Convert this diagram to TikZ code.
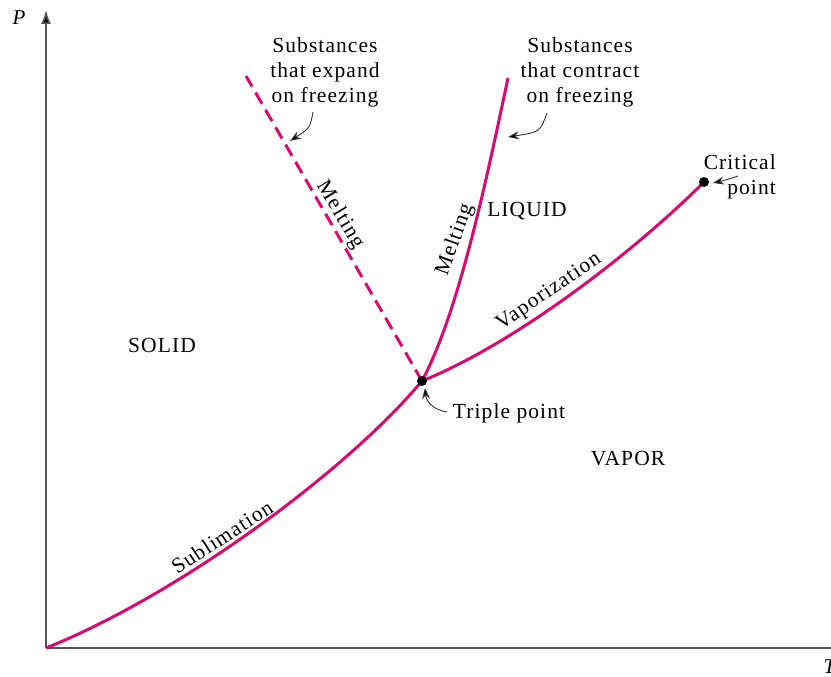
\documentclass[tikz,border=0pt]{standalone}
\usepackage{fontspec}
\setmainfont{Liberation Serif}
\newfontfamily\spacedfont{Liberation Serif}[LetterSpace=5]
\usetikzlibrary{arrows.meta}
\definecolor{phase}{RGB}{214,10,112}
\definecolor{axisgray}{RGB}{85,85,85}
\definecolor{pointer}{RGB}{50,50,50}

\begin{document}
\begin{tikzpicture}[x=1pt,y=-1pt,
  curve/.style={phase, line width=3pt},
  dashedcurve/.style={phase, line width=3pt, dash pattern=on 13pt off 7pt},
  axisline/.style={axisgray, line width=1.6pt},
  lbl/.style={font=\fontsize{21.5}{25}\selectfont\spacedfont, inner sep=0pt, text=black},
  curvelbl/.style={font=\fontsize{21.5}{25}\selectfont\spacedfont, inner sep=0pt, text=black},
  pointerline/.style={pointer, line width=0.9pt, -{Stealth[length=11pt,width=8pt,fill=black]}},
  dot/.style={circle, fill=black, inner sep=0pt, minimum size=10pt}
]
\useasboundingbox (0,0) rectangle (831,677);

% axes
\coordinate (O) at (46,648);
\coordinate (Ptop) at (46,10);
\coordinate (Tend) at (831,648);
\draw[axisline, -{Latex[length=14pt,width=10pt,fill=black]}] (O) -- (Ptop);
\draw[axisline] (O) -- (Tend);
\node[font=\fontsize{21}{25}\selectfont\itshape] (plbl) at (19,18) {P};
\node[font=\fontsize{21}{25}\selectfont\itshape, anchor=west] (tlbl) at (820,667) {T};

% special points and curve ends
\coordinate (TP) at (422,381);
\coordinate (CP) at (704,182);
\coordinate (Eexp) at (246,76);
\coordinate (Econ) at (508,78);

% phase boundaries
\draw[curve] (O) .. controls (176,596) and (345,473) .. (TP);
\draw[curve] (TP) .. controls (515,343.5) and (633,253) .. (CP);
\draw[curve] (TP) .. controls (459.6,310.4) and (487.2,175.8) .. (Econ);
\draw[dashedcurve] (TP) -- (Eexp);

\node[dot] (tpdot) at (TP) {};
\node[dot] (cpdot) at (CP) {};

% region names
\node[lbl] (solid) at (162,345) {SOLID};
\node[lbl] (liquid) at (527,211) {LIQUID};
\node[lbl] (vapor) at (628,459) {VAPOR};

% curve names
\node[curvelbl, rotate=-59] (meltexp) at (340,215) {Melting};
\node[curvelbl, rotate=70] (meltcon) at (455,240) {Melting};
\node[curvelbl, rotate=34] (vap) at (549,292) {Vaporization};
\node[curvelbl, rotate=33] (subl) at (222,537) {Sublimation};

% annotations
\node[lbl, align=center] (expand) at (325,72) {Substances\\that expand\\on freezing};
\node[lbl, align=center] (contract) at (580,72) {Substances\\that contract\\on freezing};
\node[lbl, align=right, anchor=east] (critical) at (776,177) {Critical\\point};
\node[lbl] (triple) at (509,413) {Triple point};

\coordinate (expandtip) at (290,141);
\coordinate (contracttip) at (508,137);
\coordinate (criticaltip) at (713,183);
\coordinate (tripletip) at (425,388);

\draw[pointerline] (313,112) .. controls (310,128) .. (expandtip);
\draw[pointerline] (547,113) .. controls (540,132) .. (contracttip);
\draw[pointerline] (738,176) .. controls (726,180) .. (criticaltip);
\draw[pointerline] (447,412) .. controls (430,409) and (426,399) .. (tripletip);
\end{tikzpicture}
\end{document}
